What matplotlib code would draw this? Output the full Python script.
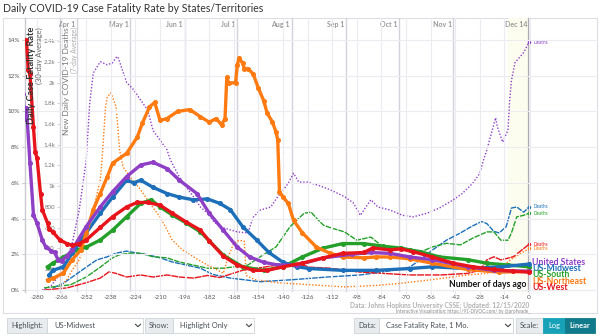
import numpy as np
import matplotlib.pyplot as plt
from matplotlib.patches import Rectangle
from matplotlib.lines import Line2D

plt.rcParams['font.family'] = ['Lato', 'DejaVu Sans']

# ---- data ----
# daily case fatality rate, 30-day average [%], by days ago
west_cfr_days = [-288, -286, -285, -284, -282, -281, -280, -278, -277, -274, -273, -271, -267, -263, -260, -256,
                 -252, -244, -237, -229, -223, -217, -210, -203, -195, -187, -182, -174, -166, -157, -149, -140,
                 -129, -117, -106, -94, -89, -79, -73, -66, -55, -43, -32, -20, -9, 0]
west_cfr = [14.0, 14.0, 12.3, 12.1, 9.1, 7.7, 7.4, 5.4, 4.5, 3.75, 3.4, 3.25, 2.8, 2.6, 2.5, 2.6,
            2.8, 3.5, 4.1, 4.65, 4.9, 4.9, 4.75, 4.3, 3.8, 3.35, 2.75, 1.9, 1.4, 1.1, 1.1, 1.3,
            1.5, 1.8, 2.05, 2.1, 2.35, 2.25, 2.3, 2.15, 1.85, 1.5, 1.3, 1.15, 1.05, 1.0]

us_cfr_days = [-288, -287, -286, -284, -282, -280, -277, -275, -272, -270, -268, -266, -263, -260, -252, -244,
               -237, -229, -221, -214, -206, -199, -189, -182, -174, -166, -159, -151, -143, -132, -117, -101,
               -90, -79, -68, -55, -35, -20, 0]
us_cfr = [11.0, 9.6, 10.2, 7.1, 4.2, 3.75, 2.8, 2.4, 2.2, 2.1, 1.7, 1.65, 1.9, 2.25, 3.55, 4.65,
          5.5, 6.35, 7.0, 7.15, 6.8, 6.15, 5.4, 4.3, 3.35, 2.4, 1.85, 1.55, 1.4, 1.4, 1.8, 2.0,
          2.1, 2.05, 1.85, 1.7, 1.3, 1.1, 1.05]

midwest_cfr_days = [-273, -271, -265, -260, -252, -244, -237, -229, -225, -221, -214, -206, -199, -191, -183,
                    -176, -170, -163, -155, -148, -140, -132, -125, -106, -87, -68, -55, -35, -16, 0]
midwest_cfr = [0.85, 1.1, 1.3, 2.05, 3.2, 4.3, 5.2, 6.15, 6.0, 6.15, 5.75, 5.4, 5.2, 5.05, 5.1,
               4.85, 4.5, 3.55, 2.8, 2.1, 1.55, 1.3, 1.2, 1.1, 1.1, 1.2, 1.3, 1.2, 1.3, 1.45]

south_cfr_days = [-274, -271, -265, -257, -252, -244, -237, -229, -221, -215, -210, -203, -195, -187, -182,
                  -174, -163, -151, -140, -129, -117, -106, -94, -83, -73, -68, -62, -51, -35, -24, -12, 0]
south_cfr = [1.3, 1.5, 1.85, 2.25, 2.4, 2.8, 3.35, 4.1, 4.85, 5.05, 4.65, 4.2, 3.75, 3.25, 2.75,
             1.95, 1.3, 1.1, 1.3, 1.85, 2.35, 2.6, 2.6, 2.45, 2.35, 2.25, 2.15, 1.85, 1.7, 1.5, 1.4, 1.3]

northeast_cfr_days = [-274, -271, -265, -260, -255, -252, -248, -244, -240, -237, -229, -223, -220, -216, -213,
                      -210, -206, -200, -193, -187, -182, -178, -175, -173, -172, -171, -167, -166, -165, -163,
                      -162, -160, -157, -154, -151, -149, -146, -144, -143, -142, -140, -137, -134, -129, -121,
                      -113, -106, -94, -87, -79, -68, -55, -35, -17, 0]
northeast_cfr = [0.55, 0.65, 0.95, 1.7, 2.25, 3.2, 4.5, 5.4, 6.35, 7.1, 7.65, 8.55, 9.35, 10.25, 10.5,
                 9.5, 9.6, 10.0, 10.1, 9.7, 9.4, 9.6, 9.25, 9.6, 11.9, 11.6, 11.6, 12.6, 13.0, 12.7,
                 12.4, 12.4, 12.1, 11.3, 10.6, 9.9, 9.4, 8.85, 8.4, 5.5, 5.2, 4.85, 3.9, 3.2, 2.4,
                 2.05, 1.85, 1.8, 1.85, 1.85, 1.75, 1.5, 1.15, 1.0, 1.05]

# new daily deaths, 7-day average
us_deaths_days = [-277, -272, -268, -264, -260, -256, -252, -250, -248, -244, -240, -237, -235, -234, -232,
                  -229, -225, -221, -217, -214, -210, -206, -204, -199, -195, -191, -187, -183, -179, -174,
                  -166, -160, -157, -153, -147, -143, -140, -137, -134, -131, -126, -120, -113, -105, -100,
                  -96, -90, -86, -79, -72, -66, -58, -51, -43, -38, -32, -28, -26, -24, -19, -18, -15,
                  -12, -11, -10, -8, -5, -3, 0]
us_deaths = [0, 40, 130, 240, 450, 770, 1250, 1800, 2090, 2200, 2170, 2190, 2240, 2250, 2150,
             2000, 1930, 1830, 1735, 1540, 1445, 1350, 1250, 1090, 990, 900, 800, 740, 650, 600,
             560, 550, 700, 770, 800, 900, 960, 1030, 1125, 1040, 1040, 1010, 965, 900, 840,
             720, 870, 800, 770, 720, 705, 740, 790, 870, 930, 1030, 1125, 1250, 1350, 1660, 1570, 1425,
             1540, 1830, 2020, 2190, 2250, 2290, 2390]

northeast_deaths_days = [-267, -263, -260, -256, -252, -248, -244, -243, -241, -240, -238, -237, -235, -234,
                         -233, -231, -227, -221, -216, -210, -206, -203, -197, -191, -183, -178, -174, -171,
                         -168, -165, -162, -161, -156, -143, -124, -105, -86, -73, -55, -35, -24, -16, -9, 0]
northeast_deaths = [30, 100, 190, 290, 480, 770, 1060, 1250, 1765, 1860, 1900, 1860, 1765, 1570,
                    1350, 1185, 1090, 965, 840, 705, 580, 480, 385, 320, 240, 200, 160, 330,
                    450, 480, 470, 140, 100, 70, 50, 30, 45, 65, 100, 145, 160, 220, 310, 400]

west_deaths_days = [-276, -263, -252, -244, -239, -235, -229, -221, -214, -206, -199, -191, -183, -176,
                    -163, -143, -132, -125, -113, -98, -83, -68, -50, -35, -28, -24, -20, -16, -9, 0]
west_deaths = [0, 20, 70, 115, 175, 160, 125, 145, 125, 145, 125, 115, 140, 120,
               190, 240, 260, 220, 210, 175, 160, 145, 145, 160, 190, 290, 320, 290, 320, 440]

midwest_deaths_days = [-271, -265, -257, -252, -246, -240, -235, -229, -223, -217, -210, -203, -195, -187,
                       -180, -170, -153, -134, -115, -96, -77, -68, -62, -55, -47, -39, -33, -27, -24, -20,
                       -17, -13, -10, -7, -3, 0]
midwest_deaths = [20, 65, 160, 220, 290, 320, 355, 375, 355, 340, 310, 270, 240, 210,
                  150, 115, 80, 100, 125, 145, 190, 220, 290, 385, 480, 550, 610, 660, 640, 565,
                  550, 610, 790, 800, 750, 800]

south_deaths_days = [-276, -261, -252, -244, -237, -233, -227, -221, -214, -206, -199, -191, -183, -174,
                     -160, -153, -144, -136, -132, -128, -124, -120, -117, -113, -105, -98, -90, -83, -75,
                     -68, -62, -55, -47, -39, -32, -24, -20, -16, -12, -10, -7, -3, 0]
south_deaths = [20, 50, 125, 220, 310, 340, 355, 355, 320, 310, 270, 240, 210, 210,
                240, 320, 415, 610, 675, 740, 750, 675, 625, 600, 560, 480, 510, 415, 405,
                385, 365, 415, 450, 435, 500, 560, 560, 480, 480, 550, 705, 720, 740]

region_names = ['United States', 'US-Midwest', 'US-South', 'US-Northeast', 'US-West']
region_colors = ['#8e3fc6', '#1c6fb8', '#24a02a', '#ff7a10', '#e8141c']

x_ticks = list(range(-280, 1, 14))
cfr_ticks = [0, 2, 4, 6, 8, 10, 12, 14]
death_ticks = [200, 400, 600, 800, 1000, 1200, 1400, 1600, 1800, 2000, 2200, 2400]
month_days = [-257, -227, -196, -166, -135, -104, -74, -43, 0]
month_labels = ['Apr 1', 'May 1', 'Jun 1', 'Jul 1', 'Aug 1', 'Sep 1', 'Oct 1', 'Nov 1', 'Dec 14']

# ---- figure ----
W, H = 600, 336
fig = plt.figure(figsize=(W / 100, H / 100), dpi=100)


def fx(x):
    return x / W


def fy(y):
    return 1 - y / H


# outer frame of the chart
fig.add_artist(Rectangle((fx(3), fy(313)), fx(594), (313 - 18) / H, transform=fig.transFigure,
                         facecolor='white', edgecolor='#dddde3', lw=0.8, zorder=0))

ax = fig.add_axes([fx(24.7), fy(292), (595.8 - 24.7) / W, (292 - 18) / H])
ax2 = ax.twinx()
ax.set_zorder(2)
ax2.set_zorder(1)
ax.patch.set_visible(False)
ax2.patch.set_facecolor('#faf9fd')

ax.set_xlim(-287, 38)
ax.set_ylim(-0.112, 15.23)
ax2.set_ylim(-19.3, 2621.7)

# background: recent-days shade, month lines
ax2.axvspan(-12, 0, color='#fdfdef', lw=0, zorder=0)
for d in month_days:
    ax2.axvline(d, color='#d3d1da', lw=1.0, zorder=0.5)
ax2.axvline(0, color='#a9a8ae', lw=1.6, zorder=0.6)
for d, lab in zip(month_days, month_labels):
    ax2.text(d - 1, 0.975, lab, transform=ax2.get_xaxis_transform(), ha='right', va='center',
             fontsize=5, color='#9a9a9a', fontweight='bold')

# deaths (thin dotted lines)
deaths = [(us_deaths_days, us_deaths, (0, (1.0, 1.3))),
          (midwest_deaths_days, midwest_deaths, (0, (4, 0.8))),
          (south_deaths_days, south_deaths, (0, (4, 0.8))),
          (northeast_deaths_days, northeast_deaths, (0, (1.0, 1.3))),
          (west_deaths_days, west_deaths, (0, (5, 0.6)))]
for (dd, dv, ls), c in zip(deaths, region_colors):
    ax2.plot(dd, dv, color=c, lw=1.0, ls=ls, zorder=2)
    ax2.plot(dd[-1], dv[-1], 'o', color=c, ms=1.5, zorder=2)
    ax2.text(2.5, dv[-1], 'Deaths', color=c, fontsize=3.3, va='center', ha='left')

# case fatality rate (thick lines with markers)
cfr = {'United States': (us_cfr_days, us_cfr), 'US-Midwest': (midwest_cfr_days, midwest_cfr),
       'US-South': (south_cfr_days, south_cfr), 'US-Northeast': (northeast_cfr_days, northeast_cfr),
       'US-West': (west_cfr_days, west_cfr)}
for name in ['US-South', 'US-Midwest', 'US-Northeast', 'United States', 'US-West']:
    d, v = cfr[name]
    c = region_colors[region_names.index(name)]
    ax.plot(d, v, color=c, lw=2.4, marker='o', ms=2.6, solid_joinstyle='round', zorder=3)

# axes styling
for s in ['top', 'right', 'bottom']:
    ax.spines[s].set_visible(False)
    ax2.spines[s].set_visible(False)
ax.spines['left'].set_color('#c9c9cf')
ax.spines['left'].set_linewidth(1.0)
ax2.spines['left'].set_visible(True)
ax2.spines['left'].set_position(('data', -267))
ax2.spines['left'].set_color('#d0d0d6')
ax2.spines['left'].set_linewidth(1.0)
ax2.yaxis.set_ticks_position('left')
ax2.yaxis.set_label_position('left')

ax.set_yticks(cfr_ticks)
ax.set_yticklabels([f'{t}%' for t in cfr_ticks])
ax.tick_params(axis='y', labelsize=4.6, labelcolor='#555555', length=2, width=0.6, color='#bbbbbb', pad=1.5)
ax.grid(axis='y', color='#ecebf1', lw=0.8)
ax.set_xticks(x_ticks)
ax.set_xticklabels([str(t) for t in x_ticks])
ax.tick_params(axis='x', labelsize=4.6, labelcolor='#555555', length=1.5, width=0.6, color='#d8d8de', pad=1)
ax.grid(axis='x', color='#ecebf1', lw=0.8)
ax.axhline(0, color='#d0d0d6', lw=0.8, zorder=1)

ax2.set_yticks(death_ticks)
ax2.set_yticklabels([f'{t / 1000:g}k' if t >= 1000 else str(t) for t in death_ticks])
ax2.tick_params(axis='y', labelsize=4.4, labelcolor='#777777', length=2, width=0.6, color='#cccccc', pad=1.5)

# axis titles
fig.text(fx(31.5), fy(27), 'Daily Case Fatality Rate', rotation=90, ha='center', va='top',
         fontsize=6.6, fontweight='bold', color='#333333')
fig.text(fx(39.5), fy(27), '(30-day Average)', rotation=90, ha='center', va='top',
         fontsize=5.4, color='#666666')
fig.text(fx(66), fy(27), 'New Daily COVID-19 Deaths', rotation=90, ha='center', va='top',
         fontsize=6.0, color='#777777')
fig.text(fx(74), fy(27), '(7-day Average)', rotation=90, ha='center', va='top',
         fontsize=4.8, color='#aaaaaa')

ax.text(-1.5, 0.3, 'Number of days ago', ha='right', va='center', fontsize=6.2, fontweight='bold',
        color='#111111', zorder=5, bbox=dict(facecolor='white', edgecolor='none', pad=0.4))

# region labels
for i, (name, c) in enumerate(zip(region_names, region_colors)):
    fig.text(fx(532), fy(262.5 + i * 6.2), name, color=c, fontsize=6.3, fontweight='bold',
             ha='left', va='center')

# title and credits
fig.text(fx(3), fy(9), 'Daily COVID-19 Case Fatality Rate by States/Territories', fontsize=7.6,
         color='#333333', ha='left', va='center')
fig.text(fx(529), fy(305), 'Data: Johns Hopkins University CSSE; Updated: 12/15/2020', fontsize=4.8,
         color='#b0b0b0', fontweight='bold', ha='right', va='center')
fig.text(fx(530), fy(311.8), 'Interactive Visualization: https://91-DIVOC.com/ by @profwade_', fontsize=3.3,
         color='#888888', ha='right', va='center')


# ---- controls below the chart ----
def box(x0, x1, y0, y1, fc, ec='#ced4da'):
    fig.add_artist(Rectangle((fx(x0), fy(y1)), (x1 - x0) / W, (y1 - y0) / H, transform=fig.transFigure,
                             facecolor=fc, edgecolor=ec, lw=0.6))


def caret(x, y):
    fig.add_artist(Line2D([fx(x - 2.5), fx(x), fx(x + 2.5)], [fy(y - 1.2), fy(y + 1.2), fy(y - 1.2)],
                          transform=fig.transFigure, color='#444444', lw=0.8))


y0, y1 = 318, 333
ym = (y0 + y1) / 2
box(7, 47, y0, y1, '#e9ecef')
box(47, 143, y0, y1, 'white')
fig.text(fx(11), fy(ym), 'Highlight:', fontsize=5.4, color='#495057', va='center')
fig.text(fx(54), fy(ym), 'US-Midwest', fontsize=5.4, color='#495057', va='center')
caret(138, ym)
box(145, 173, y0, y1, '#e9ecef')
box(173, 254, y0, y1, 'white')
fig.text(fx(149), fy(ym), 'Show:', fontsize=5.4, color='#495057', va='center')
fig.text(fx(180), fy(ym), 'Highlight Only', fontsize=5.4, color='#495057', va='center')
caret(249, ym)
box(354, 379, y0, y1, '#e9ecef')
box(379, 513, y0, y1, 'white')
fig.text(fx(358), fy(ym), 'Data:', fontsize=5.4, color='#495057', va='center')
fig.text(fx(386), fy(ym), 'Case Fatality Rate, 1 Mo.', fontsize=5.4, color='#495057', va='center')
caret(508, ym)
box(516, 543, y0, y1, '#e9ecef')
fig.text(fx(520), fy(ym), 'Scale:', fontsize=5.4, color='#495057', va='center')
box(543, 565, y0, y1, '#17a2b8', ec='#17a2b8')
box(565, 595, y0, y1, '#117a8b', ec='#117a8b')
fig.text(fx(554), fy(ym), 'Log', fontsize=5.4, color='white', va='center', ha='center')
fig.text(fx(580), fy(ym), 'Linear', fontsize=5.4, color='white', va='center', ha='center', fontweight='bold')

fig.savefig('out.png', dpi=100)
